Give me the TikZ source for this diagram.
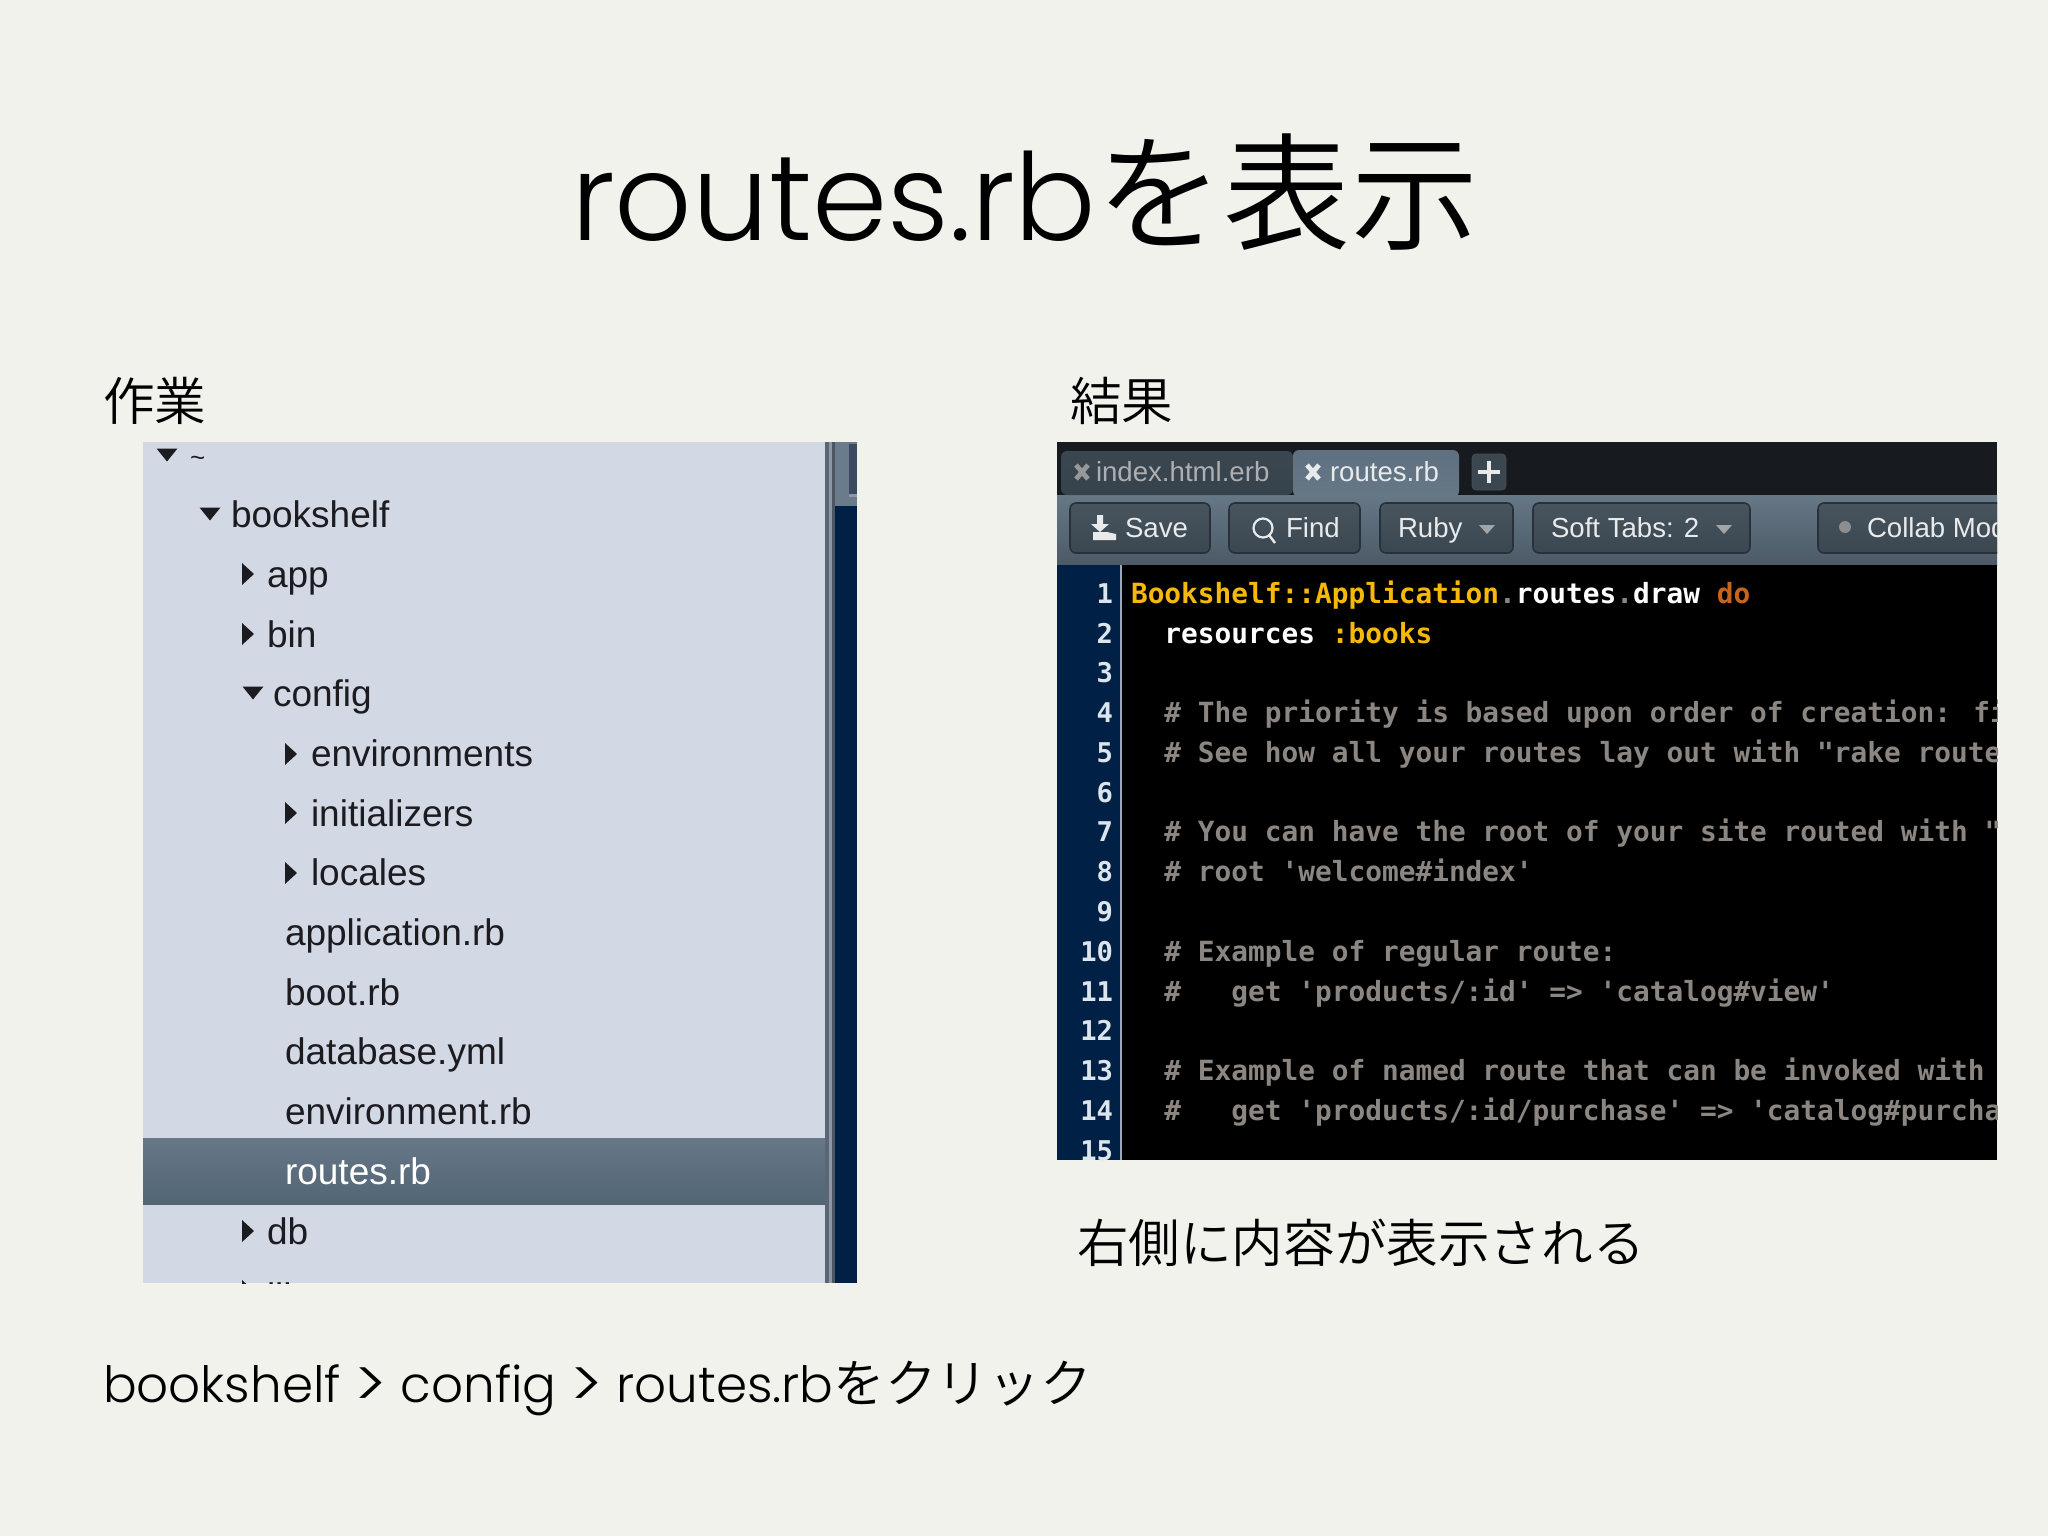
\documentclass[tikz,border=0pt]{standalone}
\usepackage{fontspec}
\setmainfont{Liberation Sans}
\newfontfamily\ttlfont{Poppins Light}
\newfontfamily\capfont{Poppins Light}
\newfontfamily\cjkfont{Noto Sans CJK JP DemiLight}
\newfontfamily\monofont{DejaVu Sans Mono}
\definecolor{pagebg}{HTML}{F2F2EC}
\definecolor{treebg}{HTML}{D3D8E5}
\definecolor{navy}{HTML}{002045}
\definecolor{inktxt}{HTML}{1C1C20}
\definecolor{cmt}{HTML}{8B8681}
\definecolor{ylw}{HTML}{F7B80C}
\definecolor{org}{HTML}{C8641C}
\definecolor{num}{HTML}{DCE4EC}
\definecolor{uitxt}{HTML}{E8EAEC}
\definecolor{btna}{HTML}{48555F}
\definecolor{btnb}{HTML}{3A4650}
\definecolor{btnline}{HTML}{28313A}
\definecolor{hla}{HTML}{667786}
\definecolor{hlb}{HTML}{536676}
\definecolor{tabbar}{HTML}{171A1E}
\definecolor{toola}{HTML}{667786}
\definecolor{toolb}{HTML}{4C5A66}
\definecolor{tabidlea}{HTML}{3A4750}
\definecolor{tabidleb}{HTML}{36424C}
\definecolor{tabacta}{HTML}{5F7180}
\definecolor{scra}{HTML}{5A6674}
\definecolor{scrb}{HTML}{8D97A5}
\definecolor{scrc}{HTML}{4A5662}
\definecolor{scrd}{HTML}{6A7C8C}
\definecolor{scre}{HTML}{3C4A60}
\newcommand{\capgt}{{\fontsize{33}{30}\selectfont\raisebox{-2.6pt}{>}}}
\tikzset{
 x=0.5pt,y=-0.5pt,
 every node/.style={inner sep=0pt,outer sep=0pt,anchor=base west},
 titletxt/.style={font=\fontsize{60.5}{70}\selectfont,text=black},
 captxt/.style={font=\fontsize{25.8}{30}\selectfont,text=black},
 treetxt/.style={font=\fontsize{18.5}{20}\selectfont,text=inktxt},
 uitext/.style={font=\fontsize{13.8}{16}\selectfont,text=uitxt},
 uibtn/.style={draw=btnline,line width=0.8pt,rounded corners=3pt,top color=btna,bottom color=btnb},
 lnum/.style={anchor=base east,font=\fontsize{13.6}{16}\monofont\bfseries\selectfont,text=num},
 code/.style={font=\fontsize{13.9}{16}\monofont\bfseries\selectfont,text=#1},
 code/.default=cmt,
 pics/tridown/.style={code={\fill[inktxt] (-10.5,-6.5)--(10.5,-6.5)--(0,6.5)--cycle;}},
 pics/triright/.style={code={\fill[inktxt] (-6,-11)--(6,0)--(-6,11)--cycle;}},
 pics/chev/.style={code={\fill[#1] (-8,-4)--(8,-4)--(0,5)--cycle;}},
 pics/xmark/.style={code={\draw[#1,line width=2.4pt] (-6,-7)--(6,7) (6,-7)--(-6,7);}},
}
\begin{document}
\begin{tikzpicture}
\useasboundingbox (0,0) rectangle (2048,1536);
\fill[pagebg] (0,0) rectangle (2048,1536);
% title and captions
\node[titletxt] (title) at (571,240) {\ttlfont routes.rb{\fontsize{63.6}{70}\cjkfont\selectfont を表示}};
\node[captxt] (cap1) at (103,420) {\cjkfont 作業};
\node[captxt] (cap2) at (1070,420) {\cjkfont 結果};
\node[captxt] (cap3) at (1077,1262) {\cjkfont 右側に内容が表示される};
\node[captxt] (cap4) at (103,1402) {\capfont\fontsize{25}{30}\selectfont bookshelf \capgt{} config \capgt{} routes.rb{\fontsize{25.8}{30}\cjkfont\selectfont をクリック}};
% left screenshot
\begin{scope}
\clip (143,442) rectangle (857,1283);
\fill[treebg] (143,442) rectangle (825,1283);
\fill[scra] (825,442) rectangle (829,1283);
\fill[scrb] (829,442) rectangle (832,1283);
\fill[scrc] (832,442) rectangle (835,1283);
\fill[navy] (835,442) rectangle (857,1283);
\fill[scrd] (835,442) rectangle (857,506);
\fill[scre] (849,444) rectangle (857,494);
\fill[scrb] (849,494) rectangle (857,497);
\shade[top color=hla,bottom color=hlb] (143,1138) rectangle (825,1204);
\pic at (167,455) {tridown};
\node[treetxt,font=\fontsize{13}{16}\selectfont] (tilde) at (190,466) {\textasciitilde};
\pic at (210,514) {tridown};
\node[treetxt] (n1) at (231,527) {bookshelf};
\pic at (248,574) {triright};
\node[treetxt] (n2) at (267,587) {app};
\pic at (248,634) {triright};
\node[treetxt] (n3) at (267,647) {bin};
\pic at (253,693) {tridown};
\node[treetxt] (n4) at (273,706) {config};
\pic at (291,754) {triright};
\node[treetxt] (n5) at (311,766) {environments};
\pic at (291,813) {triright};
\node[treetxt] (n6) at (311,826) {initializers};
\pic at (291,873) {triright};
\node[treetxt] (n7) at (311,885.5) {locales};
\node[treetxt] (n8) at (285,945) {application.rb};
\node[treetxt] (n9) at (285,1005) {boot.rb};
\node[treetxt] (n10) at (285,1064.6) {database.yml};
\node[treetxt] (n11) at (285,1124) {environment.rb};
\node[treetxt,text=white] (n12) at (285,1184) {routes.rb};
\pic at (248,1231) {triright};
\node[treetxt] (n13) at (267,1244) {db};
\pic at (248,1291) {triright};
\node[treetxt] (n14) at (267,1309) {lib};
\end{scope}
% right screenshot
\begin{scope}
\clip (1057,442) rectangle (1997,1160);
\fill[tabbar] (1057,442) rectangle (1997,1160);
\shade[top color=toola,bottom color=toolb] (1057,495) rectangle (1997,565);
\fill[black] (1122,565) rectangle (1997,1160);
\fill[navy] (1057,565) rectangle (1120,1160);
\fill[num!70!navy] (1120,565) rectangle (1122,1160);
\path[top color=tabidlea,bottom color=tabidleb,rounded corners=3pt] (1061,495) -- (1061,451) -- (1293,451) -- (1293,495) -- cycle;
\path[top color=tabacta,bottom color=toola,rounded corners=3pt] (1293,497) -- (1293,450) -- (1459,450) -- (1459,497) -- cycle;
\path[fill=tabidlea,draw=black!70,rounded corners=2pt] (1472,454) rectangle (1506,490);
\draw[uitxt,line width=2.2pt] (1489,461)--(1489,483) (1478,472)--(1500,472);
\pic at (1082,472) {xmark=uitxt!65!black};
\node[uitext,text=uitxt!75!black] (tab1) at (1096,481) {index.html.erb};
\pic at (1313,472) {xmark=uitxt};
\node[uitext] (tab2) at (1330,481) {routes.rb};
\path[uibtn] (1070,503) rectangle (1210,553);
\path[uibtn] (1229,503) rectangle (1360,553);
\path[uibtn] (1380,503) rectangle (1513,553);
\path[uibtn] (1533,503) rectangle (1750,553);
\path[uibtn] (1818,503) rectangle (2040,553);
\fill[uitxt] (1097,515)--(1103,515)--(1103,524)--(1109,524)--(1100,532)--(1091,524)--(1097,524)--cycle;
\fill[uitxt] (1093,532)--(1107,532)--(1116,534)--(1116,540)--(1093,540)--cycle;
\draw[uitxt,line width=1.1pt] (1263,528) circle[radius=9.5];
\draw[uitxt,line width=1.2pt] (1269,535)--(1275,543);
\node[uitext] (b1) at (1125,537) {Save};
\node[uitext] (b2) at (1286,537) {Find};
\node[uitext] (b3) at (1398,537) {Ruby};
\pic at (1487,529) {chev=uitxt!70!black};
\node[uitext] (b4) at (1551,537) {Soft Tabs: 2};
\pic at (1724,529) {chev=uitxt!70!black};
\fill[uitxt!60!black] (1845,527) circle[radius=6];
\node[uitext] (b5) at (1867,537) {Collab Mode};
% line numbers
\node[lnum] (l1) at (1113,603) {1};
\node[lnum] (l2) at (1113,643) {2};
\node[lnum] (l3) at (1113,682.5) {3};
\node[lnum] (l4) at (1113,722.3) {4};
\node[lnum] (l5) at (1113,762) {5};
\node[lnum] (l6) at (1113,802) {6};
\node[lnum] (l7) at (1113,841.6) {7};
\node[lnum] (l8) at (1113,881.4) {8};
\node[lnum] (l9) at (1113,921) {9};
\node[lnum] (l10) at (1113,961) {10};
\node[lnum] (l11) at (1113,1001) {11};
\node[lnum] (l12) at (1113,1040.5) {12};
\node[lnum] (l13) at (1113,1080) {13};
\node[lnum] (l14) at (1113,1120) {14};
\node[lnum] (l15) at (1113,1160) {15};
% code
\node[code] (c1) at (1131,603) {\textcolor{ylw}{Bookshelf::Application}\textcolor{cmt}{.}\textcolor{white}{routes}\textcolor{cmt}{.}\textcolor{white}{draw} \textcolor{org}{do}};
\node[code] (c2) at (1131,643) {\ \ \textcolor{white}{resources} \textcolor{ylw}{:books}};
\node[code] (c4) at (1131,722.3) {\ \ \# The priority is based upon order of creation: fi};
\node[code] (c5) at (1131,762) {\ \ \# See how all your routes lay out with "rake route};
\node[code] (c7) at (1131,841.6) {\ \ \# You can have the root of your site routed with "};
\node[code] (c8) at (1131,881.4) {\ \ \# root 'welcome\#index'};
\node[code] (c10) at (1131,961) {\ \ \# Example of regular route:};
\node[code] (c11) at (1131,1001) {\ \ \#\ \ \ get 'products/:id' => 'catalog\#view'};
\node[code] (c13) at (1131,1080) {\ \ \# Example of named route that can be invoked with};
\node[code] (c14) at (1131,1120) {\ \ \#\ \ \ get 'products/:id/purchase' => 'catalog\#purcha};
\end{scope}
\end{tikzpicture}
\end{document}
